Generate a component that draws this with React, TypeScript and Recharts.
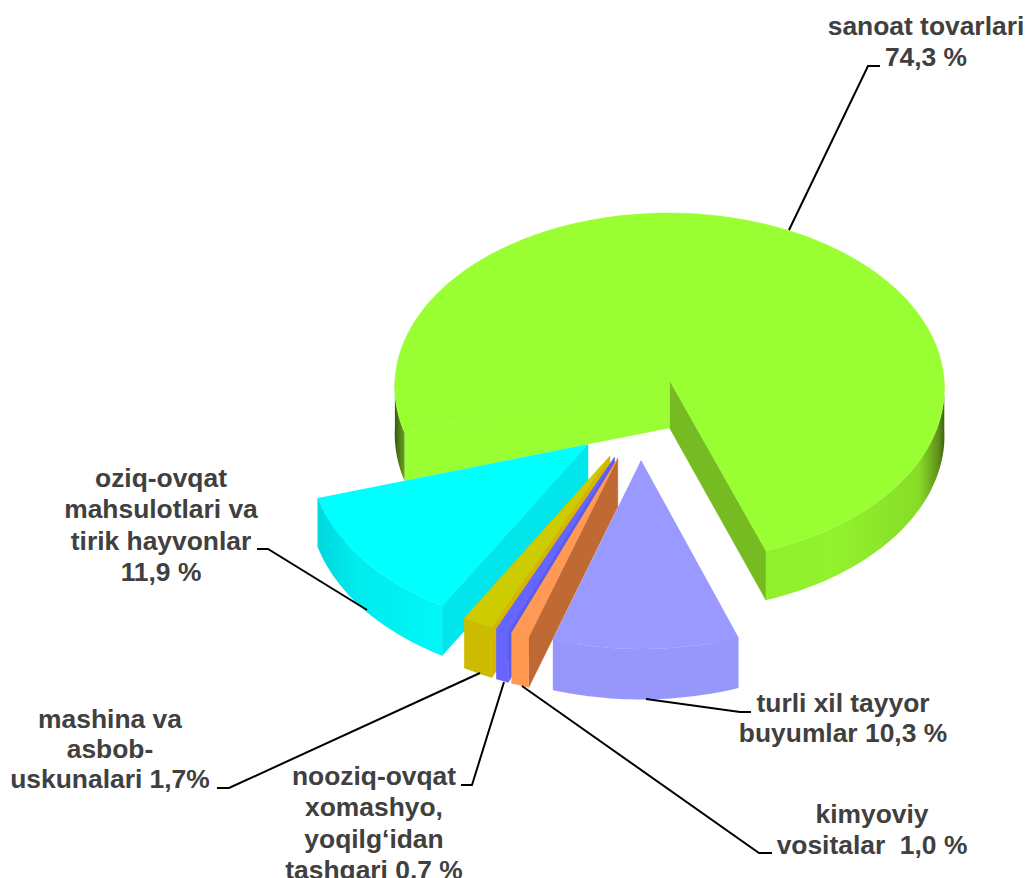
import React from "react";
import { PieChart, Pie } from "recharts";

const sliceNames = [
  "sanoat tovarlari",
  "oziq-ovqat mahsulotlari va tirik hayvonlar",
  "mashina va asbob-uskunalari",
  "nooziq-ovqat xomashyo, yoqilg‘idan tashqari",
  "kimyoviy vositalar",
  "turli xil tayyor buyumlar",
];
const sliceValues = [74.3, 11.9, 1.7, 0.7, 1.0, 10.3];
const labelLines = [
  ["sanoat tovarlari", "74,3 %"],
  ["oziq-ovqat", "mahsulotlari va", "tirik hayvonlar", "11,9 %"],
  ["mashina va", "asbob-", "uskunalari 1,7%"],
  ["nooziq-ovqat", "xomashyo,", "yoqilg‘idan", "tashqari 0,7 %"],
  ["kimyoviy", "vositalar  1,0 %"],
  ["turli xil tayyor", "buyumlar 10,3 %"],
];
const data = sliceNames.map((name, i) => ({ name, value: sliceValues[i] }));

const WIDTH = 1027;
const HEIGHT = 878;
const CX = 640;
const CY = 418;
const RADIUS = 277;
const TILT = 0.639;
const PERSPECTIVE = 0.04;
const EXPLODE = 0.24;
const DEPTH = 48;

const SLICE_STYLE = [
  { top: "#99FF33", rim: "url(#greenRim)", startWall: "#77BB22", endWall: "#99FF33" },
  { top: "#00FFFF", rim: "url(#cyanRim)", startWall: "#00E8E8", endWall: "#00E6EA" },
  { top: "#CCCC00", rim: "#CCBB00", startWall: "#CCBB00", endWall: "#D6B400" },
  { top: "#6666FF", rim: "#6666FF", startWall: "#6666FF", endWall: "#5C5CE8" },
  { top: "#FF9955", rim: "#FF9950", startWall: "#FF9950", endWall: "#BF6A35" },
  { top: "#9999FF", rim: "#9696FB", startWall: "#9696FB", endWall: "#9696FB" },
];

const LABEL_LAYOUT = [
  { x: 926, y: 35, step: 31, leader: [[880, 66], [868, 66], [789, 230]] },
  { x: 161, y: 487, step: 31.4, leader: [[257, 549], [268, 549], [367, 610]] },
  { x: 110, y: 728, step: 30, leader: [[217, 788], [229, 788], [480, 673]] },
  { x: 374, y: 785, step: 31.3, leader: [[461, 785], [472, 785], [504, 682]] },
  { x: 872, y: 823, step: 31, leader: [[522, 686], [759, 853], [772, 853]] },
  { x: 843, y: 712, step: 30, leader: [[646, 699], [740, 712], [751, 712]] },
];

const rad = (d: number) => (d * Math.PI) / 180;

function project(cx: number, cy: number, R: number, mid: number, t: number, r: number, low: boolean) {
  const U = EXPLODE * Math.cos(rad(mid)) + r * Math.cos(rad(t));
  const V = -EXPLODE * Math.sin(rad(mid)) - r * Math.sin(rad(t));
  const s = 1 / (1 - PERSPECTIVE * V);
  return [cx + R * U * s, cy + R * TILT * V * s + (low ? DEPTH * s : 0)];
}
const toPath = (pts: number[][]) =>
  "M" + pts.map((p) => `${p[0].toFixed(1)},${p[1].toFixed(1)}`).join("L") + "Z";

function Slice3D(props: any) {
  const { cx, cy, outerRadius, startAngle, endAngle, index } = props;
  const style = SLICE_STYLE[index];
  const lo = Math.min(startAngle, endAngle);
  const hi = Math.max(startAngle, endAngle);
  const mid = (lo + hi) / 2;
  const P = (t: number, r: number, low: boolean) => project(cx, cy, outerRadius, mid, t, r, low);

  const angles: number[] = [];
  const n = Math.max(2, Math.ceil(hi - lo));
  for (let i = 0; i <= n; i++) angles.push(lo + ((hi - lo) * i) / n);

  const rims: number[][] = [];
  let run: number[] = [];
  angles.forEach((t) => {
    if (Math.sin(rad(t)) <= 0.001) run.push(t);
    else {
      if (run.length > 1) rims.push(run);
      run = [];
    }
  });
  if (run.length > 1) rims.push(run);

  const wall = (t: number) =>
    toPath([P(t, 0, false), P(t, 1, false), P(t, 1, true), P(t, 0, true)]);
  const walls = [
    { t: lo, normal: lo - 90, fill: style.startWall },
    { t: hi, normal: hi + 90, fill: style.endWall },
  ].sort((a, b) => Math.sin(rad(b.normal)) - Math.sin(rad(a.normal)));

  return (
    <g>
      {walls.map((w, i) => (
        <path key={i} d={wall(w.t)} fill={w.fill} stroke={w.fill} strokeWidth={0.4} />
      ))}
      {rims.map((ts, i) => (
        <path
          key={i}
          d={toPath([
            ...ts.map((t) => P(t, 1, false)),
            ...[...ts].reverse().map((t) => P(t, 1, true)),
          ])}
          fill={style.rim}
        />
      ))}
      <path
        d={toPath([P(lo, 0, false), ...angles.map((t) => P(t, 1, false))])}
        fill={style.top}
        stroke={style.top}
        strokeWidth={0.4}
      />
    </g>
  );
}

function SliceLabel(props: any) {
  const layout = LABEL_LAYOUT[props.index];
  const lines = labelLines[props.index];
  return (
    <g>
      <polyline
        points={layout.leader.map((p) => p.join(",")).join(" ")}
        fill="none"
        stroke="#000000"
        strokeWidth={2}
      />
      {lines.map((line, i) => (
        <text
          key={i}
          x={layout.x}
          y={layout.y + i * layout.step}
          textAnchor="middle"
          fontFamily="'Liberation Sans', Arial, sans-serif"
          fontWeight="bold"
          fontSize={26.4}
          fill="#404040"
          style={{ whiteSpace: "pre" }}
        >
          {line}
        </text>
      ))}
    </g>
  );
}

export default function App() {
  return (
    <div style={{ position: "absolute", left: 0, top: 0, width: WIDTH, height: HEIGHT, background: "#fff" }}>
      <PieChart width={WIDTH} height={HEIGHT} margin={{ top: 0, right: 0, bottom: 0, left: 0 }}>
        <defs>
          <linearGradient id="greenRim" gradientUnits="userSpaceOnUse" x1={393} y1={0} x2={947} y2={0}>
            <stop offset="0" stopColor="#2F4F0A" />
            <stop offset="0.015" stopColor="#5A8A18" />
            <stop offset="0.04" stopColor="#8CE82A" />
            <stop offset="0.8" stopColor="#92F22D" />
            <stop offset="0.95" stopColor="#88DC27" />
            <stop offset="0.985" stopColor="#5E8F1A" />
            <stop offset="1" stopColor="#2F4F0A" />
          </linearGradient>
          <linearGradient id="cyanRim" gradientUnits="userSpaceOnUse" x1={319} y1={0} x2={447} y2={0}>
            <stop offset="0" stopColor="#00D8DE" />
            <stop offset="0.3" stopColor="#00ECEE" />
            <stop offset="1" stopColor="#00F8F8" />
          </linearGradient>
        </defs>
        <Pie
          data={data}
          dataKey="value"
          nameKey="name"
          cx={CX}
          cy={CY}
          innerRadius={0}
          outerRadius={RADIUS}
          startAngle={-70.5}
          endAngle={289.5}
          paddingAngle={0}
          stroke="none"
          shape={Slice3D}
          label={SliceLabel}
          labelLine={false}
          isAnimationActive={false}
        />
      </PieChart>
    </div>
  );
}
